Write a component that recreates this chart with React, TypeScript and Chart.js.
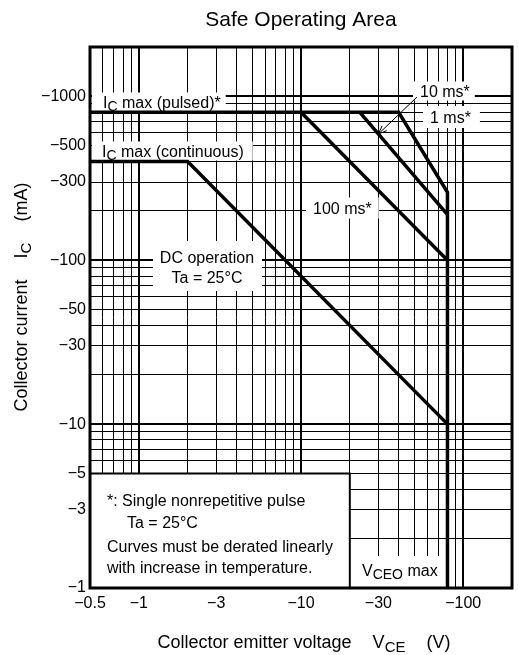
import React, { useEffect, useRef } from 'react';
import { Chart, registerables } from 'chart.js';

Chart.register(...registerables);

const FONT = '"Liberation Sans", Arial, Helvetica, sans-serif';

// ---- axis ticks (as printed on the chart) ----
const xTickLabels = [-0.5, -1, -3, -10, -30, -100];
const yTickLabels = [-1, -3, -5, -10, -30, -50, -100, -300, -500, -1000];
const xGridValues = [-0.5, -0.6, -0.7, -0.8, -0.9, -1, -2, -3, -4, -5, -6, -7, -8, -9, -10, -20, -30, -40, -50, -60, -70, -80, -90, -100, -200];
const yGridValues = [-1, -2, -3, -4, -5, -6, -7, -8, -9, -10, -20, -30, -40, -50, -60, -70, -80, -90, -100, -200, -300, -400, -500, -600, -700, -800, -900, -1000, -2000];
const xMajor = [-1, -10, -100];
const yMajor = [-10, -100, -1000];
const xRange = [-0.5, -200];
const yRange = [-1, -2000];

// ---- SOA boundaries: VCE (V) / IC (mA) ----
// IC max (pulsed) -> 1 ms -> VCEO max
const pulsedV = [-0.5, -40, -80, -80];
const pulsedI = [-800, -800, -260, -1];
// 10 ms
const ms10V = [-23, -80];
const ms10I = [-800, -190];
// 100 ms
const ms100V = [-10, -80];
const ms100I = [-800, -100];
// IC max (continuous) -> DC operation
const dcV = [-0.5, -2, -80];
const dcI = [-400, -400, -10];

type Part = { t: string; sub?: boolean };

function partFont(size: number, sub?: boolean) {
  return `${sub ? Math.round(size * 0.85) : size}px ${FONT}`;
}
function measureParts(ctx: CanvasRenderingContext2D, parts: Part[], size: number) {
  let w = 0;
  for (const p of parts) {
    ctx.font = partFont(size, p.sub);
    w += ctx.measureText(p.t).width;
  }
  return w;
}
function drawParts(
  ctx: CanvasRenderingContext2D,
  parts: Part[],
  x: number,
  centerY: number,
  size: number,
  align: 'left' | 'center'
) {
  const w = measureParts(ctx, parts, size);
  let cx = align === 'center' ? x - w / 2 : x;
  const base = centerY + size * 0.36;
  ctx.textAlign = 'left';
  ctx.textBaseline = 'alphabetic';
  ctx.fillStyle = '#000';
  for (const p of parts) {
    ctx.font = partFont(size, p.sub);
    ctx.fillText(p.t, cx, base + (p.sub ? size * 0.22 : 0));
    cx += ctx.measureText(p.t).width;
  }
  return w;
}

const LABEL_SIZE = 16;

// label text, placement relative to the plot area (dx, cy), box paddings
const plotLabels: { parts: Part[]; dx: number; cy: number; fromEdge?: boolean; padL: number; padR: number; h: number }[] = [
  { parts: [{ t: 'I' }, { t: 'C', sub: true }, { t: ' max (pulsed)*' }], dx: 13, cy: 55, fromEdge: true, padL: 7, padR: 5, h: 19 },
  { parts: [{ t: 'I' }, { t: 'C', sub: true }, { t: ' max (continuous)' }], dx: 12, cy: 104, fromEdge: true, padL: 7, padR: 9, h: 19 },
  { parts: [{ t: '100 ms*' }], dx: 223, cy: 161, padL: 7, padR: 7, h: 21 },
  { parts: [{ t: '10 ms*' }], dx: 330, cy: 44, padL: 7, padR: 5, h: 19 },
  { parts: [{ t: '1 ms*' }], dx: 340, cy: 70, padL: 7, padR: 9, h: 22 },
];

const soaPlugin = {
  id: 'soaDecor',
  beforeDatasetsDraw(chart: any) {
    const { ctx, chartArea: a } = chart;
    ctx.save();
    ctx.fillStyle = '#fff';
    for (const l of plotLabels) {
      const w = measureParts(ctx, l.parts, LABEL_SIZE);
      const tx = a.left + l.dx;
      const x0 = l.fromEdge ? a.left + 2 : tx - l.padL;
      const x1 = tx + w + l.padR;
      ctx.fillRect(x0, a.top + l.cy - l.h / 2, x1 - x0, l.h);
    }
    // DC operation box
    ctx.fillRect(a.left + 63, a.top + 194, 109, 50);
    // VCEO max box
    const vw = measureParts(ctx, [{ t: 'V' }, { t: 'CEO', sub: true }, { t: ' max' }], LABEL_SIZE);
    ctx.fillRect(a.left + 265, a.bottom - 32, vw + 12, 32);
    // note box
    const ys = chart.scales.y;
    const xs = chart.scales.x;
    const noteTop = ys.getPixelForValue(5);
    const noteRight = xs.getPixelForValue(20);
    ctx.fillRect(a.left, noteTop, noteRight - a.left, a.bottom - noteTop);
    ctx.restore();
  },
  afterDatasetsDraw(chart: any) {
    const { ctx, chartArea: a } = chart;
    const xs = chart.scales.x;
    const ys = chart.scales.y;
    ctx.save();
    // note box border
    const noteTop = ys.getPixelForValue(5);
    const noteRight = xs.getPixelForValue(20);
    ctx.strokeStyle = '#000';
    ctx.lineWidth = 2;
    ctx.beginPath();
    ctx.moveTo(a.left, noteTop);
    ctx.lineTo(noteRight, noteTop);
    ctx.lineTo(noteRight, a.bottom);
    ctx.stroke();

    // frame
    ctx.lineWidth = 3;
    ctx.strokeRect(a.left, a.top, a.right - a.left, a.bottom - a.top);

    // plot labels
    for (const l of plotLabels) {
      drawParts(ctx, l.parts, a.left + l.dx, a.top + l.cy, LABEL_SIZE, 'left');
    }
    const dcX = a.left + 117;
    drawParts(ctx, [{ t: 'DC operation' }], dcX, a.top + 210, LABEL_SIZE, 'center');
    drawParts(ctx, [{ t: 'Ta = 25°C' }], dcX, a.top + 230, LABEL_SIZE, 'center');
    drawParts(ctx, [{ t: 'V' }, { t: 'CEO', sub: true }, { t: ' max' }], a.left + 272, a.bottom - 18, LABEL_SIZE, 'left');

    // note text
    drawParts(ctx, [{ t: '*: Single nonrepetitive pulse' }], a.left + 17, a.top + 453, LABEL_SIZE, 'left');
    drawParts(ctx, [{ t: 'Ta = 25°C' }], a.left + 37, a.top + 475, LABEL_SIZE, 'left');
    drawParts(ctx, [{ t: 'Curves must be derated linearly' }], a.left + 17, a.top + 499, LABEL_SIZE, 'left');
    drawParts(ctx, [{ t: 'with increase in temperature.' }], a.left + 17, a.top + 520, LABEL_SIZE, 'left');

    // arrow from "10 ms*" to the 10 ms curve
    const vTip = 30;
    const lv0 = Math.log10(-ms10V[0]), lv1 = Math.log10(-ms10V[1]);
    const li0 = Math.log10(-ms10I[0]), li1 = Math.log10(-ms10I[1]);
    const iTip = Math.pow(10, li0 + ((Math.log10(vTip) - lv0) / (lv1 - lv0)) * (li1 - li0));
    const tipX = xs.getPixelForValue(vTip);
    const tipY = ys.getPixelForValue(iTip);
    const sx = a.left + 327, sy = a.top + 50;
    ctx.lineWidth = 1;
    ctx.beginPath();
    ctx.moveTo(sx, sy);
    ctx.lineTo(tipX, tipY);
    ctx.stroke();
    const ang = Math.atan2(tipY - sy, tipX - sx);
    const hl = 9, hw = 0.38;
    ctx.beginPath();
    ctx.moveTo(tipX, tipY);
    ctx.lineTo(tipX - hl * Math.cos(ang - hw), tipY - hl * Math.sin(ang - hw));
    ctx.moveTo(tipX, tipY);
    ctx.lineTo(tipX - hl * Math.cos(ang + hw), tipY - hl * Math.sin(ang + hw));
    ctx.stroke();

    // axis titles
    const T = 18;
    // x title
    const xt: Part[][] = [[{ t: 'Collector emitter voltage' }], [{ t: 'V' }, { t: 'CE', sub: true }], [{ t: '(V)' }]];
    const gap = 21;
    let total = 0;
    const widths = xt.map((p) => measureParts(ctx, p, T));
    total = widths.reduce((s, w) => s + w, 0) + gap * (xt.length - 1);
    let cx = 304 - total / 2;
    xt.forEach((p, i) => {
      drawParts(ctx, p, cx, 642, T, 'left');
      cx += widths[i] + gap;
    });
    // y title (rotated)
    const yt: Part[][] = [[{ t: 'Collector current' }], [{ t: 'I' }, { t: 'C', sub: true }], [{ t: '(mA)' }]];
    const yw = yt.map((p) => measureParts(ctx, p, T));
    const ytot = yw.reduce((s, w) => s + w, 0) + gap * (yt.length - 1);
    ctx.translate(21, 297);
    ctx.rotate(-Math.PI / 2);
    let cy = -ytot / 2;
    yt.forEach((p, i) => {
      drawParts(ctx, p, cy, 0, T, 'left');
      cy += yw[i] + gap;
    });
    ctx.restore();
  },
};

const xLabelSet = new Set(xTickLabels.map((v) => -v));
const yLabelSet = new Set(yTickLabels.map((v) => -v));
const xMajorSet = new Set(xMajor.map((v) => -v));
const yMajorSet = new Set(yMajor.map((v) => -v));

export default function App() {
  const ref = useRef<HTMLCanvasElement | null>(null);
  useEffect(() => {
    if (!ref.current) return;
    const line = (vs: number[], is: number[]) => ({
      data: vs.map((v, k) => ({ x: -v, y: -is[k] })),
      showLine: true,
      borderColor: '#000',
      backgroundColor: '#000',
      borderWidth: 3.5,
      pointRadius: 0,
      tension: 0,
      fill: false,
      borderJoinStyle: 'miter' as const,
    });
    const chart = new Chart(ref.current, {
      type: 'scatter',
      data: {
        datasets: [line(pulsedV, pulsedI), line(ms10V, ms10I), line(ms100V, ms100I), line(dcV, dcI)],
      },
      plugins: [soaPlugin],
      options: {
        responsive: false,
        animation: false,
        devicePixelRatio: 1,
        layout: { padding: { left: 0, right: 1, top: 0, bottom: 0 } },
        plugins: {
          legend: { display: false },
          tooltip: { enabled: false },
          title: {
            display: true,
            text: 'Safe Operating Area',
            fullSize: false,
            color: '#000',
            font: { family: FONT, size: 21, weight: 'normal', lineHeight: 1.2 },
            padding: { top: 7.5, bottom: 14.3 },
          },
        },
        scales: {
          x: {
            type: 'logarithmic',
            min: -xRange[0],
            max: -xRange[1],
            afterBuildTicks: (s: any) => {
              s.ticks = xGridValues.map((v) => ({ value: -v }));
            },
            afterFit: (s: any) => {
              s.height = 67;
            },
            border: { display: false },
            grid: {
              drawTicks: false,
              color: (c: any) => (c.tick && c.tick.value >= 200 ? 'rgba(0,0,0,0)' : '#000'),
              lineWidth: (c: any) => (c.tick && xMajorSet.has(c.tick.value) ? 2 : 1),
            },
            ticks: {
              autoSkip: false,
              maxRotation: 0,
              minRotation: 0,
              padding: 6,
              color: '#000',
              font: { family: FONT, size: 16 },
              callback: (v: any) => (xLabelSet.has(Number(v)) ? '\u2212' + String(v) : ''),
            },
          },
          y: {
            type: 'logarithmic',
            min: -yRange[0],
            max: -yRange[1],
            afterBuildTicks: (s: any) => {
              s.ticks = yGridValues.map((v) => ({ value: -v }));
            },
            afterFit: (s: any) => {
              s.width = 90;
            },
            border: { display: false },
            grid: {
              drawTicks: false,
              color: (c: any) => (c.tick && c.tick.value >= 2000 ? 'rgba(0,0,0,0)' : '#000'),
              lineWidth: (c: any) => (c.tick && yMajorSet.has(c.tick.value) ? 2 : 1),
            },
            ticks: {
              autoSkip: false,
              padding: 4,
              color: '#000',
              font: { family: FONT, size: 16 },
              callback: (v: any) => (yLabelSet.has(Number(v)) ? '\u2212' + String(v) : ''),
            },
          },
        },
      },
    });
    return () => chart.destroy();
  }, []);
  return (
    <div style={{ position: 'absolute', left: 0, top: 0, width: 518, height: 655, background: '#fff' }}>
      <canvas ref={ref} width={518} height={655} style={{ display: 'block' }} />
    </div>
  );
}
